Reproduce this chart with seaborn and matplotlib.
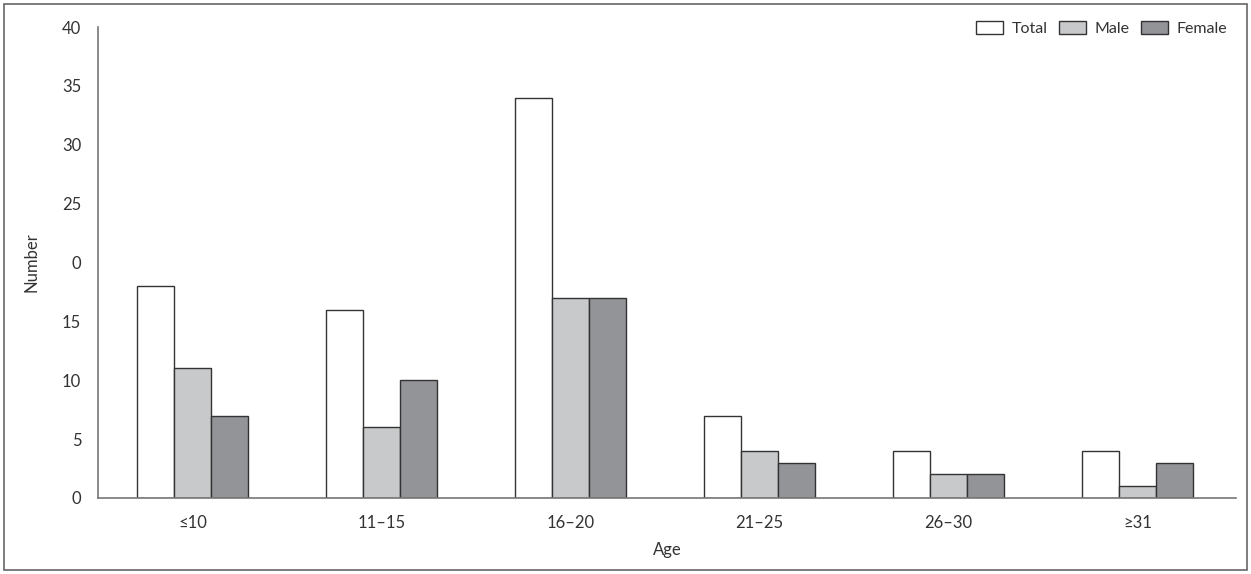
import matplotlib
matplotlib.use("Agg")
import matplotlib.pyplot as plt
from matplotlib.patches import Rectangle
import seaborn as sns
import pandas as pd

categories = ["≤10", "11–15", "16–20", "21–25", "26–30", "≥31"]
total = [18, 16, 34, 7, 4, 4]
male = [11, 6, 17, 4, 2, 1]
female = [7, 10, 17, 3, 2, 3]
series = ["Total", "Male", "Female"]
ytick_values = [0, 5, 10, 15, 20, 25, 30, 35, 40]
ytick_labels = ["0", "5", "10", "15", "0", "25", "30", "35", "40"]

sns.set_theme(style="white")
plt.rcParams['font.family'] = ['Lato', 'DejaVu Sans']

df = pd.DataFrame({
    "Age": categories * 3,
    "Number": total + male + female,
    "Series": [s for s in series for _ in categories],
})

palette = {"Total": "#ffffff", "Male": "#c8c9cb", "Female": "#939498"}

fig = plt.figure(figsize=(12.51, 5.74), dpi=100)
ax = fig.add_axes([98/1251, 1 - 498/574, (1236-98)/1251, (498-27)/574])

sns.barplot(data=df, x="Age", y="Number", hue="Series", order=categories,
            hue_order=series, palette=palette, width=0.59,
            edgecolor="#333333", linewidth=1.0, ax=ax, saturation=1)

ax.set_xlim(-0.5, 5.52)
ax.set_ylim(0, 40)
ax.set_yticks(ytick_values)
ax.set_yticklabels(ytick_labels)
ax.tick_params(axis="y", direction="in", length=7, width=1.2, color="#777777",
               labelsize=12, labelcolor="#333333", pad=12)
ax.tick_params(axis="x", length=0, labelsize=12, labelcolor="#333333", pad=12)
for s in ["top", "right"]:
    ax.spines[s].set_visible(False)
for s in ["left", "bottom"]:
    ax.spines[s].set_color("#777777")
    ax.spines[s].set_linewidth(1.2)

ax.set_xlabel("Age", fontsize=12, color="#333333", labelpad=8)
ax.set_ylabel("Number", fontsize=12, color="#333333", labelpad=16)

leg = ax.legend(loc="upper right", bbox_to_anchor=(0.998, 1.027), ncol=3, frameon=False,
                fontsize=11.5, handlelength=1.7, handleheight=0.9, columnspacing=0.7,
                handletextpad=0.55, borderaxespad=0.0)
for t in leg.get_texts():
    t.set_color("#333333")

fig.patches.append(Rectangle((4/1251, 4/574), 1 - 8/1251, 1 - 8/574,
                             transform=fig.transFigure, fill=False,
                             edgecolor="#666666", linewidth=1.2))

fig.savefig("out.png", dpi=100, facecolor="white")
